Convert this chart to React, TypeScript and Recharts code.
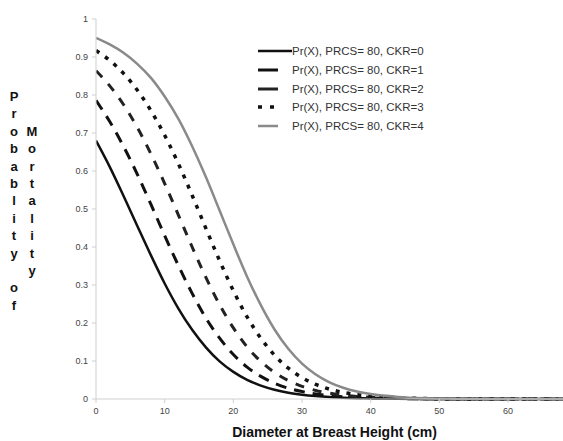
import { LineChart, Line, XAxis, YAxis } from "recharts";

// diameter at breast height (cm)
const dbh = [0, 2, 4, 6, 8, 10, 12, 14, 16, 18, 20, 22, 24, 26, 28, 30, 32, 34, 36, 38, 40, 44, 48, 52, 56, 60, 64, 68];

// probability of mortality
const ckr0 = [0.68, 0.611, 0.535, 0.456, 0.378, 0.304, 0.238, 0.182, 0.136, 0.099, 0.0714, 0.0505, 0.0353, 0.0244, 0.0167, 0.0114, 0.0077, 0.0051, 0.0034, 0.0022, 0.0015, 0.0006, 0.00025, 0.0001, 0.00003, 0.00001, 0, 0];
const ckr1 = [0.786, 0.73, 0.665, 0.592, 0.512, 0.43, 0.351, 0.278, 0.213, 0.16, 0.117, 0.084, 0.0595, 0.0415, 0.0285, 0.0195, 0.0131, 0.0088, 0.0058, 0.0039, 0.0025, 0.0011, 0.0004, 0.0002, 0.00005, 0.00002, 0.00001, 0];
const ckr2 = [0.864, 0.824, 0.775, 0.715, 0.645, 0.567, 0.484, 0.4, 0.32, 0.248, 0.187, 0.137, 0.0988, 0.0697, 0.0485, 0.0332, 0.0225, 0.0152, 0.0101, 0.0067, 0.0044, 0.0018, 0.0008, 0.0003, 0.0001, 0.00004, 0.00001, 0];
const ckr3 = [0.917, 0.891, 0.857, 0.813, 0.759, 0.694, 0.619, 0.536, 0.449, 0.364, 0.285, 0.216, 0.16, 0.115, 0.081, 0.0562, 0.0384, 0.026, 0.0173, 0.0115, 0.0075, 0.0032, 0.0013, 0.0005, 0.0002, 0.00007, 0.00002, 0.00001];
const ckr4 = [0.95, 0.933, 0.911, 0.882, 0.845, 0.796, 0.737, 0.665, 0.584, 0.496, 0.407, 0.322, 0.247, 0.183, 0.132, 0.093, 0.0644, 0.0439, 0.0295, 0.0196, 0.0129, 0.0055, 0.0022, 0.0009, 0.0003, 0.0001, 0.00005, 0.00002];

const xTicks = [0, 10, 20, 30, 40, 50, 60];
const yTicks = [0, 0.1, 0.2, 0.3, 0.4, 0.5, 0.6, 0.7, 0.8, 0.9, 1];

const seriesNames = [
  "Pr(X), PRCS= 80, CKR=0",
  "Pr(X), PRCS= 80, CKR=1",
  "Pr(X), PRCS= 80, CKR=2",
  "Pr(X), PRCS= 80, CKR=3",
  "Pr(X), PRCS= 80, CKR=4",
];

const data = dbh.map((d, i) => ({
  dbh: d,
  s0: ckr0[i],
  s1: ckr1[i],
  s2: ckr2[i],
  s3: ckr3[i],
  s4: ckr4[i],
}));

const styles = [
  { key: "s0", stroke: "#111", width: 2.5, dash: undefined, legendLen: 34 },
  { key: "s1", stroke: "#111", width: 3, dash: "11 8", legendLen: 20 },
  { key: "s2", stroke: "#222", width: 3, dash: "9 9", legendLen: 20 },
  { key: "s3", stroke: "#111", width: 3.5, dash: "4 7", legendLen: 20 },
  { key: "s4", stroke: "#8a8a8a", width: 2.5, dash: undefined, legendLen: 20 },
];

const col1 = ["P", "r", "o", "b", "a", "b", "l", "i", "t", "y", "", "o", "f"];
const col2 = ["M", "o", "r", "t", "a", "l", "i", "t", "y"];

const font = "'Liberation Sans', Arial, sans-serif";

function LegendBox() {
  return (
    <div style={{ position: "absolute", left: 257, top: 42, fontFamily: font, fontSize: 11.5, color: "#333" }}>
      {styles.map((s, i) => (
        <div key={s.key} style={{ display: "flex", alignItems: "center", height: 18.7 }}>
          <svg width={35} height={8} style={{ display: "block" }}>
            <line
              x1={1}
              x2={1 + s.legendLen}
              y1={4}
              y2={4}
              stroke={s.stroke}
              strokeWidth={s.width}
              strokeDasharray={s.key === "s3" ? "4 8" : undefined}
            />
          </svg>
          <span>{seriesNames[i]}</span>
        </div>
      ))}
    </div>
  );
}

const letterStyle = {
  position: "absolute" as const,
  width: 14,
  textAlign: "center" as const,
  fontFamily: font,
  fontWeight: "bold" as const,
  fontSize: 13,
  lineHeight: "15px",
  color: "#111",
};

export default function App() {
  return (
    <div style={{ position: "absolute", left: 0, top: 0, width: 563, height: 441, background: "#fff" }}>
      <LineChart width={563} height={441} data={data} margin={{ top: 19, right: 0, left: 0, bottom: 0 }}>
        <XAxis
          dataKey="dbh"
          type="number"
          domain={[0, 68]}
          ticks={xTicks}
          allowDataOverflow
          height={42}
          stroke="#cfcfcf"
          tickSize={4}
          tickMargin={5}
          tick={{ fill: "#444", fontSize: 9, fontFamily: font }}
        />
        <YAxis
          type="number"
          domain={[0, 1]}
          ticks={yTicks}
          width={96}
          stroke="#cfcfcf"
          tickSize={4}
          tickMargin={4}
          tick={{ fill: "#444", fontSize: 9, fontFamily: font }}
        />
        {styles.map((s, i) => (
          <Line
            key={s.key}
            dataKey={s.key}
            name={seriesNames[i]}
            type="monotone"
            stroke={s.stroke}
            strokeWidth={s.width}
            strokeDasharray={s.dash}
            dot={false}
            activeDot={false}
            isAnimationActive={false}
          />
        ))}
      </LineChart>
      <LegendBox />
      <div
        style={{
          position: "absolute",
          left: 106,
          right: 0,
          top: 424,
          textAlign: "center",
          fontFamily: font,
          fontWeight: "bold",
          fontSize: 14,
          color: "#111",
        }}
      >
        Diameter at Breast Height (cm)
      </div>
      {col1.map((c, i) => (
        <div key={"a" + i} style={{ ...letterStyle, left: 7, top: 89 + i * 17.4 }}>
          {c}
        </div>
      ))}
      {col2.map((c, i) => (
        <div key={"b" + i} style={{ ...letterStyle, left: 25, top: 89 + (i + 2) * 17.4 }}>
          {c}
        </div>
      ))}
    </div>
  );
}
